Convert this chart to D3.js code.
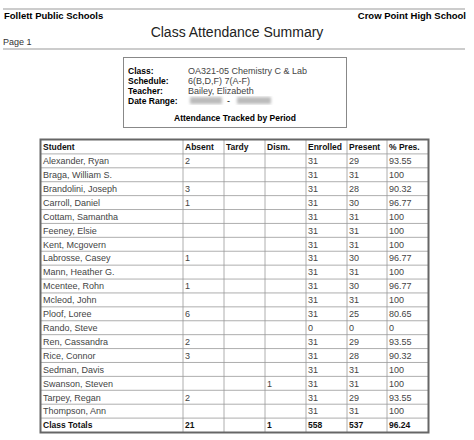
<!DOCTYPE html><html><head><meta charset="utf-8"><script src="https://cdn.jsdelivr.net/npm/d3@7"></script>
<style>body{margin:0;background:#fff}text{font-family:Arial,"Liberation Sans",sans-serif}</style></head><body><svg id="c" width="474" height="440"></svg>
<script>
const columns=["Student","Absent","Tardy","Dism.","Enrolled","Present","% Pres."];
const students=["Alexander, Ryan","Braga, William S.","Brandolini, Joseph","Carroll, Daniel","Cottam, Samantha","Feeney, Elsie","Kent, Mcgovern","Labrosse, Casey","Mann, Heather G.","Mcentee, Rohn","Mcleod, John","Ploof, Loree","Rando, Steve","Ren, Cassandra","Rice, Connor","Sedman, Davis","Swanson, Steven","Tarpey, Regan","Thompson, Ann"];
const absent=[2,"",3,1,"","","",1,"",1,"",6,"",2,3,"","",2,""];
const tardy=students.map(()=> "");
const dism=["","","","","","","","","","","","","","","","",1,"",""];
const enrolled=[31,31,31,31,31,31,31,31,31,31,31,31,0,31,31,31,31,31,31];
const present=[29,31,28,30,31,31,31,30,31,30,31,25,0,29,28,31,31,29,31];
const pctPres=["93.55","100","90.32","96.77","100","100","100","96.77","100","96.77","100","80.65","0","93.55","90.32","100","100","93.55","100"];
const totals=["Class Totals","21","","1","558","537","96.24"];
const info=[["Class:","OA321-05 Chemistry C & Lab"],["Schedule:","6(B,D,F) 7(A-F)"],["Teacher:","Bailey, Elizabeth"],["Date Range:",""]];

const svg=d3.select("#c");
svg.append("defs").append("filter").attr("id","bl").append("feGaussianBlur").attr("stdDeviation",1.5);
[9,49].forEach(y=>svg.append("line").attr("x1",3).attr("x2",465).attr("y1",y).attr("y2",y).attr("stroke","#999").attr("stroke-width",1));
svg.append("text").attr("x",4).attr("y",19).attr("font-size",9.5).attr("font-weight","bold").text("Follett Public Schools");
svg.append("text").attr("x",466).attr("y",19).attr("font-size",9.5).attr("font-weight","bold").attr("text-anchor","end").text("Crow Point High School");
svg.append("text").attr("x",237).attr("y",37).attr("font-size",14).attr("text-anchor","middle").attr("fill","#222").text("Class Attendance Summary");
svg.append("text").attr("x",3).attr("y",45).attr("font-size",9).attr("fill","#333").text("Page 1");
svg.append("rect").attr("x",123.5).attr("y",57.5).attr("width",223).attr("height",70).attr("fill","none").attr("stroke","#888");
const iy=d3.scalePoint().domain(info.map(d=>d[0])).range([73.5,104]);
info.forEach(d=>{
 svg.append("text").attr("x",128).attr("y",iy(d[0])).attr("font-size",8.5).attr("font-weight","bold").text(d[0]);
 svg.append("text").attr("x",188).attr("y",iy(d[0])).attr("font-size",9).attr("fill","#444").text(d[1]);
});
svg.append("rect").attr("x",190).attr("y",iy("Date Range:")-7).attr("width",32).attr("height",7).attr("fill","#bbb").attr("filter","url(#bl)");
svg.append("text").attr("x",227).attr("y",iy("Date Range:")).attr("font-size",9).text("-");
svg.append("rect").attr("x",237).attr("y",iy("Date Range:")-7).attr("width",34).attr("height",7).attr("fill","#bbb").attr("filter","url(#bl)");
svg.append("text").attr("x",235).attr("y",121).attr("font-size",8.5).attr("font-weight","bold").attr("text-anchor","middle").text("Attendance Tracked by Period");
const edges=[41,183,224,265,306,347,387,428];
const rows=[columns,...students.map((s,i)=>[s,absent[i],tardy[i],dism[i],enrolled[i],present[i],pctPres[i]]),totals];
const y=d3.scaleBand().domain(d3.range(rows.length)).range([140,432]);
const g=svg.append("g");
rows.forEach((r,i)=>{
 const bold=i==0||i==rows.length-1;
 r.forEach((v,j)=>{
  g.append("text").attr("x",edges[j]+2).attr("y",y(i)+y.bandwidth()/2+3.3).attr("font-size",bold?8.5:9)
   .attr("font-weight",bold?"bold":"normal").attr("fill",bold?"#111":"#444").text(v);
 });
 if(i>0) g.append("line").attr("x1",41).attr("x2",428).attr("y1",y(i)).attr("y2",y(i)).attr("stroke","#999").attr("stroke-width",0.8);
});
edges.slice(1,-1).forEach(x=>g.append("line").attr("x1",x).attr("x2",x).attr("y1",140).attr("y2",432).attr("stroke","#999").attr("stroke-width",0.8));
g.append("rect").attr("x",40.5).attr("y",139.5).attr("width",388).attr("height",293).attr("fill","none").attr("stroke","#666").attr("stroke-width",2);
</script></body></html>
